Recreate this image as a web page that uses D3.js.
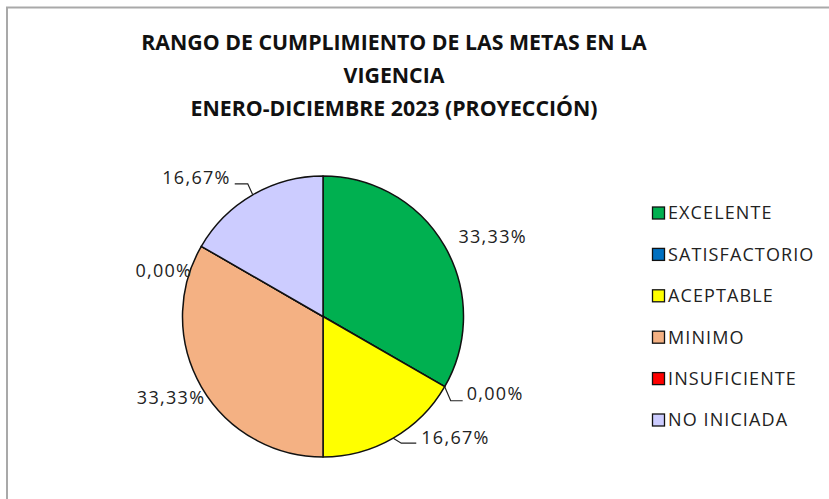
<!DOCTYPE html>
<html>
<head>
<meta charset="utf-8">
<script src="https://cdn.jsdelivr.net/npm/d3@7"></script>
<style>
  html, body { margin: 0; padding: 0; background: #fff; }
  svg { display: block; }
</style>
</head>
<body>
<div id="chart"></div>
<script>
  'use strict';

  // chart data
  var titleLines = [
    'RANGO DE CUMPLIMIENTO DE LAS METAS EN LA',
    'VIGENCIA',
    'ENERO-DICIEMBRE 2023 (PROYECCIÓN)'
  ];
  var categories = ['EXCELENTE', 'SATISFACTORIO', 'ACEPTABLE', 'MINIMO', 'INSUFICIENTE', 'NO INICIADA'];
  var values = [33.33, 0.00, 16.67, 33.33, 0.00, 16.67];
  var labels = ['33,33%', '0,00%', '16,67%', '33,33%', '0,00%', '16,67%'];
  var colors = ['#00b050', '#0070c0', '#ffff00', '#f4b183', '#ff0000', '#ccccff'];

  // label placement relative to the slice edge point (best-fit style)
  var labelLayout = [
    { dx: 48, dy: -10, anchor: 'middle', leader: false },
    { dx: 22, dy: 7, anchor: 'start', leader: true, elbow: [6, 14], end: 18 },
    { dx: 28, dy: 0, anchor: 'start', leader: true, elbow: [8, 5], end: 23 },
    { dx: 4, dy: 11, anchor: 'end', leader: false },
    { dx: -9, dy: 24, anchor: 'end', leader: false },
    { dx: -22, dy: -17, anchor: 'end', leader: true, elbow: [-5, -11], end: -18 }
  ];

  var width = 829;
  var height = 499;
  var cx = 323;
  var cy = 316.5;
  var radius = 140.5;

  var svg = d3.select('#chart').append('svg')
    .attr('width', width)
    .attr('height', height);

  // chart area frame
  svg.append('rect')
    .attr('x', 7)
    .attr('y', 7.5)
    .attr('width', width + 20)
    .attr('height', height + 20)
    .attr('fill', '#fff')
    .attr('stroke', '#a9a9a9')
    .attr('stroke-width', 2);

  // title
  svg.append('g')
    .selectAll('text')
    .data(titleLines)
    .enter()
    .append('text')
    .attr('x', 394)
    .attr('y', function (d, i) { return 49.5 + i * 33; })
    .attr('text-anchor', 'middle')
    .style('font-family', '"Open Sans", sans-serif')
    .style('font-weight', 'bold')
    .style('font-size', '21.3px')
    .style('fill', '#111')
    .text(function (d) { return d; });

  // pie
  var pie = d3.pie()
    .sort(null)
    .value(function (d) { return d; });
  var arcs = pie(values);

  var arc = d3.arc()
    .innerRadius(0)
    .outerRadius(radius);

  var g = svg.append('g')
    .attr('transform', 'translate(' + cx + ',' + cy + ')');

  g.selectAll('path.slice')
    .data(arcs)
    .enter()
    .append('path')
    .attr('class', 'slice')
    .attr('d', arc)
    .attr('fill', function (d, i) { return colors[i]; })
    .attr('stroke', '#111')
    .attr('stroke-width', 1.5)
    .attr('stroke-linejoin', 'round');

  function edgePoint(d) {
    var a = (d.startAngle + d.endAngle) / 2;
    return [radius * Math.sin(a), -radius * Math.cos(a)];
  }

  // leader lines
  g.selectAll('path.leader')
    .data(arcs.filter(function (d) { return labelLayout[d.index].leader; }))
    .enter()
    .append('path')
    .attr('class', 'leader')
    .attr('fill', 'none')
    .attr('stroke', '#222')
    .attr('stroke-width', 1.2)
    .attr('d', function (d) {
      var p = edgePoint(d);
      var l = labelLayout[d.index];
      var e = [p[0] + l.elbow[0], p[1] + l.elbow[1]];
      return d3.line()([p, e, [p[0] + l.end, e[1]]]);
    });

  // data labels
  g.selectAll('text.label')
    .data(arcs)
    .enter()
    .append('text')
    .attr('class', 'label')
    .attr('x', function (d) { return edgePoint(d)[0] + labelLayout[d.index].dx; })
    .attr('y', function (d) { return edgePoint(d)[1] + labelLayout[d.index].dy; })
    .attr('dy', '0.35em')
    .attr('text-anchor', function (d) { return labelLayout[d.index].anchor; })
    .style('font-family', '"Open Sans", sans-serif')
    .style('font-size', '18px')
    .style('letter-spacing', '1.3px')
    .style('fill', '#222')
    .text(function (d) { return labels[d.index]; });

  // legend
  var legendY = d3.scalePoint()
    .domain(categories)
    .range([213, 420]);

  var legend = svg.append('g')
    .selectAll('g')
    .data(categories)
    .enter()
    .append('g')
    .attr('transform', function (d) { return 'translate(652,' + legendY(d) + ')'; });

  legend.append('rect')
    .attr('x', 0.5)
    .attr('y', -6)
    .attr('width', 12)
    .attr('height', 12)
    .attr('fill', function (d, i) { return colors[i]; })
    .attr('stroke', '#111')
    .attr('stroke-width', 1.3);

  legend.append('text')
    .attr('x', 16)
    .attr('y', 0)
    .attr('dy', '0.35em')
    .style('font-family', '"Open Sans", sans-serif')
    .style('font-size', '18px')
    .style('letter-spacing', '1.1px')
    .style('fill', '#222')
    .text(function (d) { return d; });
</script>
</body>
</html>
